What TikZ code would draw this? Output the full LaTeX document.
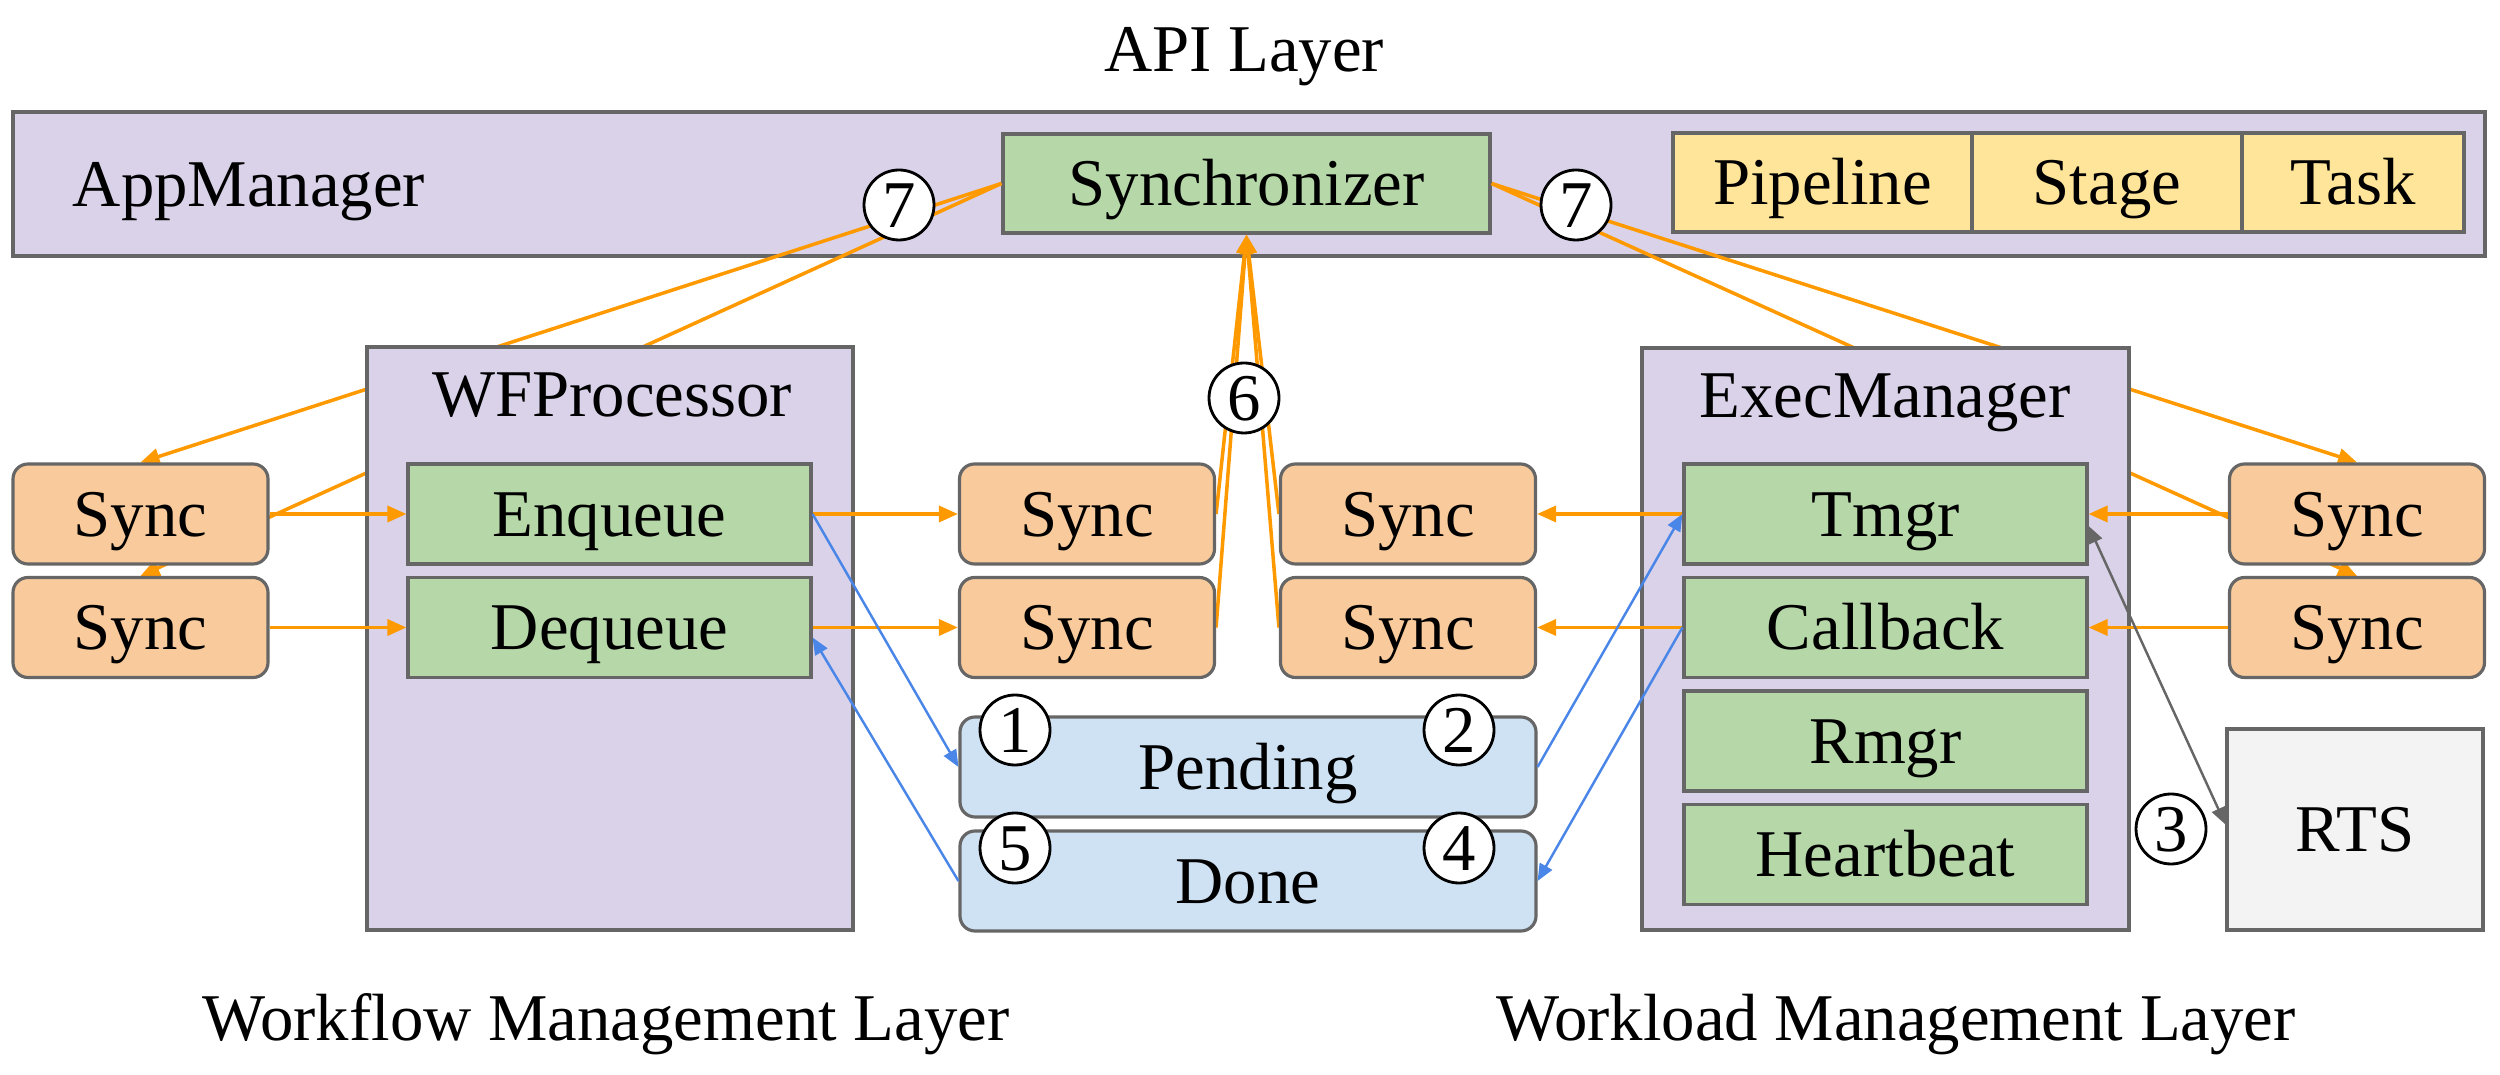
\documentclass[tikz,border=0pt]{standalone}
\usepackage{fontspec}
\setmainfont{Liberation Serif}
\usetikzlibrary{positioning, arrows.meta, backgrounds}
\definecolor{boxline}{HTML}{666666}
\definecolor{layerfill}{HTML}{D9D2E9}
\definecolor{compfill}{HTML}{B6D7A8}
\definecolor{syncfill}{HTML}{F9CB9C}
\definecolor{objfill}{HTML}{FFE599}
\definecolor{queuefill}{HTML}{CFE2F3}
\definecolor{rtsfill}{HTML}{F3F3F3}
\definecolor{syncorange}{HTML}{FF9900}
\definecolor{queueblue}{HTML}{4A86E8}
\tikzset{
    every node/.style={font=\fontsize{19}{23}\selectfont}, % One text size everywhere
    node distance=1.135cm, % Distance between stacked boxes
    box/.style={draw=boxline, line width=0.9pt, minimum height=1cm, inner sep=0pt,
        text height=14pt, text depth=1.4pt},
    layerbox/.style={box, fill=layerfill}, % Managers
    compbox/.style={box, fill=compfill, minimum width=4.03cm}, % Components
    syncbox/.style={box, fill=syncfill, rounded corners=0.15cm, minimum width=2.55cm},
    queuebox/.style={box, fill=queuefill, rounded corners=0.15cm, minimum width=5.76cm},
    objbox/.style={box, fill=objfill, minimum height=0.99cm},
    stepnum/.style={circle, draw=black, fill=white, line width=0.8pt, minimum size=0.7cm,
        inner sep=0pt, text height=12.6pt, text depth=0pt},
    syncline/.style={draw=syncorange, line width=1pt,
        -{Triangle[length=0.19cm, width=0.16cm, fill=syncorange]}},
    queueline/.style={draw=queueblue, line width=0.7pt,
        -{Triangle[length=0.17cm, width=0.14cm, fill=queueblue]}},
}
\begin{document}
\begin{tikzpicture}
    \useasboundingbox (0,0) rectangle (25,-10.75);

    % Workflow side
    \node[layerbox, minimum width=4.86cm, minimum height=5.83cm] (wfp) at (6.10,-6.385) {};
    \node[anchor=base] (wfptext) at (6.12,-4.17) {WFProcessor};
    \node[compbox] (enq) at (6.095,-5.14) {Enqueue};
    \node[compbox] (deq) [below of=enq] {Dequeue};
    \node[syncbox] (lsync1) at (1.405,-5.14) {Sync};
    \node[syncbox] (lsync2) [below of=lsync1] {Sync};

    % Middle
    \node[syncbox] (csync1) at (10.87,-5.14) {Sync};
    \node[syncbox] (csync2) [below of=csync1] {Sync};
    \node[syncbox] (csync3) at (14.08,-5.14) {Sync};
    \node[syncbox] (csync4) [below of=csync3] {Sync};
    \node[queuebox] (pend) at (12.48,-7.67) {Pending};
    \node[queuebox] (done) [below of=pend, node distance=1.14cm] {Done};

    % Workload side
    \node[layerbox, minimum width=4.87cm, minimum height=5.82cm] (em) at (18.855,-6.39) {};
    \node[anchor=base] (emtext) at (18.85,-4.18) {ExecManager};
    \node[compbox] (tmgr) at (18.855,-5.14) {Tmgr};
    \node[compbox] (cb) [below of=tmgr] {Callback};
    \node[compbox] (rmgr) [below of=cb] {Rmgr};
    \node[compbox] (hb) [below of=rmgr] {Heartbeat};
    \node[syncbox] (rsync1) at (23.57,-5.14) {Sync};
    \node[syncbox] (rsync2) [below of=rsync1] {Sync};
    \node[box, fill=rtsfill, minimum width=2.56cm, minimum height=2.01cm] (rts) at (23.55,-8.295) {RTS};

    % API layer, kept under the managers
    \begin{scope}[on background layer]
        \node[layerbox, minimum width=24.72cm, minimum height=1.44cm] (appmgr) at (12.49,-1.84) {};
        \node[anchor=base] (amtext) at (2.49,-2.07) {AppManager};
        \node[compbox, minimum width=4.87cm, minimum height=0.99cm] (syncr) at (12.465,-1.835) {Synchronizer};
        \node[objbox, minimum width=2.99cm] (pipe) at (18.225,-1.825) {Pipeline};
        \node[objbox, minimum width=2.70cm] (stage) at (21.07,-1.825) {Stage};
        \node[objbox, minimum width=2.22cm] (task) at (23.53,-1.825) {Task};

        \foreach \s in {lsync1, lsync2}
            \draw[syncline] (syncr.west) -- (\s.north);
        \foreach \s in {rsync1, rsync2}
            \draw[syncline] (syncr.east) -- (\s.north);
        \foreach \s in {csync1, csync2}
            \draw[syncline] (\s.east) -- (syncr.south);
        \foreach \s in {csync3, csync4}
            \draw[syncline] (\s.west) -- (syncr.south);
    \end{scope}

    \node[anchor=base] (apititle) at (12.44,-0.72) {API Layer};
    \node[anchor=base] (wflabel) at (6.06,-10.40) {Workflow Management Layer};
    \node[anchor=base] (wllabel) at (18.96,-10.40) {Workload Management Layer};

    % Sync connectors
    \draw[syncline] (lsync1) -- (enq);
    \draw[syncline] (lsync2) -- (deq);
    \draw[syncline] (enq) -- (csync1);
    \draw[syncline] (deq) -- (csync2);
    \draw[syncline] (tmgr) -- (csync3);
    \draw[syncline] (cb) -- (csync4);
    \draw[syncline] (rsync1) -- (tmgr);
    \draw[syncline] (rsync2) -- (cb);

    % Queues
    \draw[queueline] (enq.east) -- (pend.west);
    \draw[queueline] (pend.east) -- (tmgr.west);
    \draw[queueline] (cb.west) -- (done.east);
    \draw[queueline] (done.west) -- ([yshift=-1mm]deq.east);
    \draw[draw=boxline, line width=0.7pt,
        {Triangle[length=0.17cm, width=0.14cm, fill=boxline]}-{Triangle[length=0.17cm, width=0.14cm, fill=boxline]}]
        ([yshift=-1.2mm]tmgr.east) -- ([yshift=0.5mm]rts.west);

    % Step numbers
    \node[stepnum] (n1) at (10.15,-7.30) {1};
    \node[stepnum] (n2) at (14.59,-7.30) {2};
    \node[stepnum] (n3) at (21.71,-8.29) {3};
    \node[stepnum] (n4) at (14.59,-8.48) {4};
    \node[stepnum] (n5) at (10.15,-8.48) {5};
    \node[stepnum] (n6) at (12.44,-3.98) {6};
    \node[stepnum] (n7a) at (8.99,-2.05) {7};
    \node[stepnum] (n7b) at (15.76,-2.05) {7};
\end{tikzpicture}
\end{document}
